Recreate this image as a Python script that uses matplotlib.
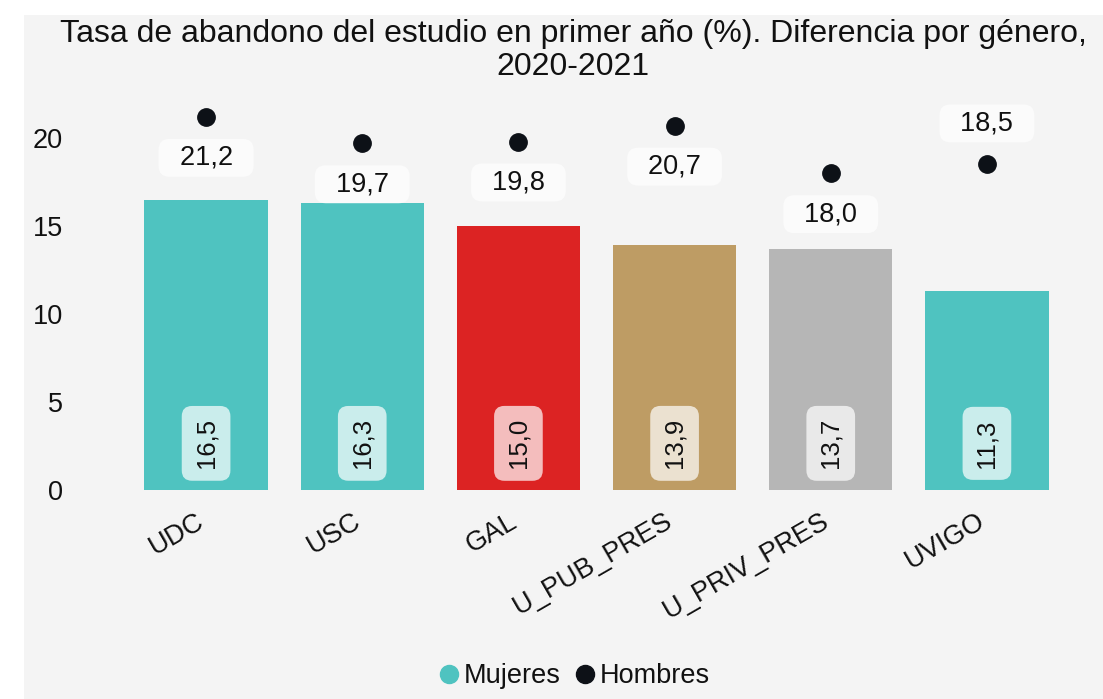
import matplotlib
matplotlib.use("Agg")
import matplotlib.pyplot as plt
import matplotlib.transforms as mtransforms
from matplotlib.patches import Rectangle
from matplotlib.lines import Line2D

plt.rcParams['font.family'] = ['Liberation Sans', 'DejaVu Sans']

categories = ["UDC", "USC", "GAL", "U_PUB_PRES", "U_PRIV_PRES", "UVIGO"]
mujeres = [16.5, 16.3, 15.0, 13.9, 13.7, 11.3]
hombres = [21.2, 19.7, 19.8, 20.7, 18.0, 18.5]
bar_colors = ["#4fc3c0", "#4fc3c0", "#dc2323", "#be9c64", "#b6b6b6", "#4fc3c0"]
label_above = [False, False, False, False, False, True]
title = "Tasa de abandono del estudio en primer año (%). Diferencia por género,\n2020-2021"

W, H = 1103, 699
fig = plt.figure(figsize=(W / 100, H / 100), dpi=100)
fig.patch.set_facecolor("white")
fig.patches.append(Rectangle((24 / W, 0), 1 - 24 / W, 1 - 15 / H,
                             transform=fig.transFigure, facecolor="#f4f4f4",
                             edgecolor="none", zorder=-10))

ax = fig.add_axes([128 / W, 209 / H, 937 / W, 396 / H])
ax.set_facecolor("none")
for s in ax.spines.values():
    s.set_visible(False)

x = list(range(len(categories)))
ax.bar(x, mujeres, width=0.79, color=bar_colors, zorder=2)
ax.plot(x, hombres, linestyle="none", marker="o", markersize=12.5,
        color="#0d1117", zorder=3)

def fmt(v):
    return f"{v:.1f}".replace(".", ",")

for xi, v in zip(x, mujeres):
    ax.text(xi, 2.65, fmt(v), rotation=90, ha="center", va="center",
            fontsize=18.5, color="#111111", zorder=4,
            bbox=dict(boxstyle="round,pad=0.48,rounding_size=0.4",
                      facecolor="white", alpha=0.7, edgecolor="none"))

for xi, v, up in zip(x, hombres, label_above):
    off = 29.5 if up else -29.5
    ax.annotate("  " + fmt(v) + "  ", (xi, v), xytext=(0, off),
                textcoords="offset points", ha="center", va="center",
                fontsize=19.5, color="#111111", zorder=4,
                bbox=dict(boxstyle="round,pad=0.22,rounding_size=0.4",
                          facecolor="#fbfbfb", edgecolor="none"))

ax.set_xlim(-0.5, 5.5)
ax.set_ylim(0, 22.5)
ax.set_yticks([0, 5, 10, 15, 20])
ax.set_yticklabels(["0", "5", "10", "15", "20"])
ax.tick_params(axis="y", length=0, pad=47, labelsize=19.5, labelcolor="#111111")
ax.set_xticks(x)
ax.set_xticklabels(categories, rotation=30, ha="right", va="top",
                   rotation_mode="anchor")
ax.tick_params(axis="x", length=0, pad=13, labelsize=19.5, labelcolor="#111111")
shift = mtransforms.ScaledTranslation(-10 / 100, 0, fig.dpi_scale_trans)
for lab in ax.get_xticklabels():
    lab.set_transform(lab.get_transform() + shift)

fig.text(573 / W, 1 - 19 / H, title, ha="center", va="top", fontsize=23,
         color="#111111", linespacing=1.12)

handles = [Line2D([], [], linestyle="none", marker="o", markersize=13,
                  color="#4fc3c0"),
           Line2D([], [], linestyle="none", marker="o", markersize=13,
                  color="#0d1117")]
fig.legend(handles, ["Mujeres", "Hombres"], loc="center",
           bbox_to_anchor=(573 / W, 1 - 676 / H), ncol=2, frameon=False,
           fontsize=19.5, handletextpad=0.05, columnspacing=0.4,
           handlelength=1.0, labelcolor="#111111")

fig.savefig("out.png", dpi=100)
